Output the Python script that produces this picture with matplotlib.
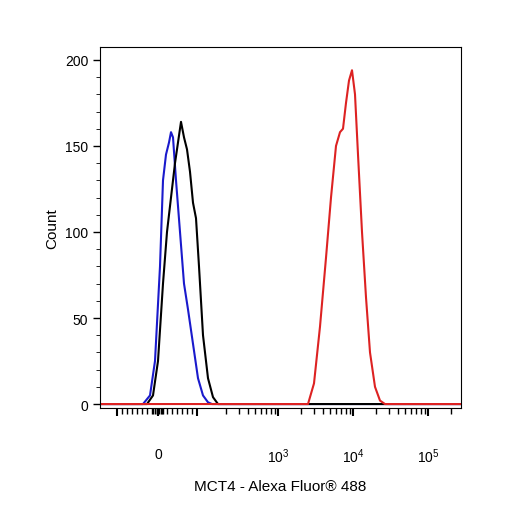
import matplotlib.pyplot as plt
import numpy as np

plt.rcParams["font.family"] = ["Liberation Sans", "DejaVu Sans"]

# x is in display channel units (biexponential-like scale), y counts
blue_x = [100, 143, 150, 155, 160, 163, 166, 169, 171, 173, 176, 180, 184, 188, 193, 198, 203, 208, 212, 461]
blue_y = [0, 0, 5, 25, 80, 130, 145, 152, 158, 155, 130, 100, 70, 55, 35, 15, 5, 1, 0, 0]
black_x = [100, 147, 153, 158, 163, 167, 171, 175, 178, 181, 184, 187, 190, 193, 196, 199, 203, 208, 213, 218, 461]
black_y = [0, 0, 5, 25, 70, 100, 120, 140, 152, 164, 155, 148, 135, 117, 108, 80, 40, 15, 4, 0, 0]
red_x = [100, 308, 314, 320, 326, 331, 336, 340, 343, 346, 349, 352, 355, 358, 362, 366, 370, 375, 380, 385, 461]
red_y = [0, 0, 12, 45, 85, 120, 150, 158, 160, 175, 188, 194, 180, 145, 100, 62, 30, 10, 2, 0, 0]

major_ticks = [117, 158, 197, 278, 353, 428]
tick_labels = {158: "0", 278: "$\\mathregular{10^3}$", 353: "$\\mathregular{10^4}$", 428: "$\\mathregular{10^5}$"}

fig = plt.figure(figsize=(5.06, 5.06), dpi=100)
ax = fig.add_axes([100 / 506, 1 - 409 / 506, 361 / 506, 361 / 506])

ax.plot(blue_x, blue_y, color="#1a1acc", lw=1.5)
ax.plot(black_x, black_y, color="black", lw=1.5)
ax.plot(red_x, red_y, color="#dd2222", lw=1.5)

ax.set_xlim(100, 461)
ax.set_ylim(-2.3, 207.5)

# minor ticks: linear around zero, log between decades
minor = list(np.linspace(117, 197, 17))
minor += [153, 155, 157, 159, 161, 163]
for start in [203, 278, 353, 428]:
    for k in range(2, 10):
        p = start + 75 * np.log10(k)
        if p < 461:
            minor.append(p)
ax.set_xticks(major_ticks)
ax.set_xticklabels([tick_labels.get(t, "") for t in major_ticks])
ax.set_xticks(minor, minor=True)
ax.tick_params(axis="x", which="major", length=6, width=1.5, pad=22, labelsize=10)
ax.tick_params(axis="x", which="minor", length=4, width=1)

ax.set_yticks([0, 50, 100, 150, 200])
ax.set_yticks(np.arange(0, 201, 10), minor=True)
ax.tick_params(axis="y", which="major", length=5, width=1, labelsize=10)
ax.tick_params(axis="y", which="minor", length=3)

ax.set_ylabel("Count", fontsize=11)
ax.set_xlabel("MCT4 - Alexa Fluor® 488", fontsize=11, labelpad=10)

fig.savefig("out.png", dpi=100)
